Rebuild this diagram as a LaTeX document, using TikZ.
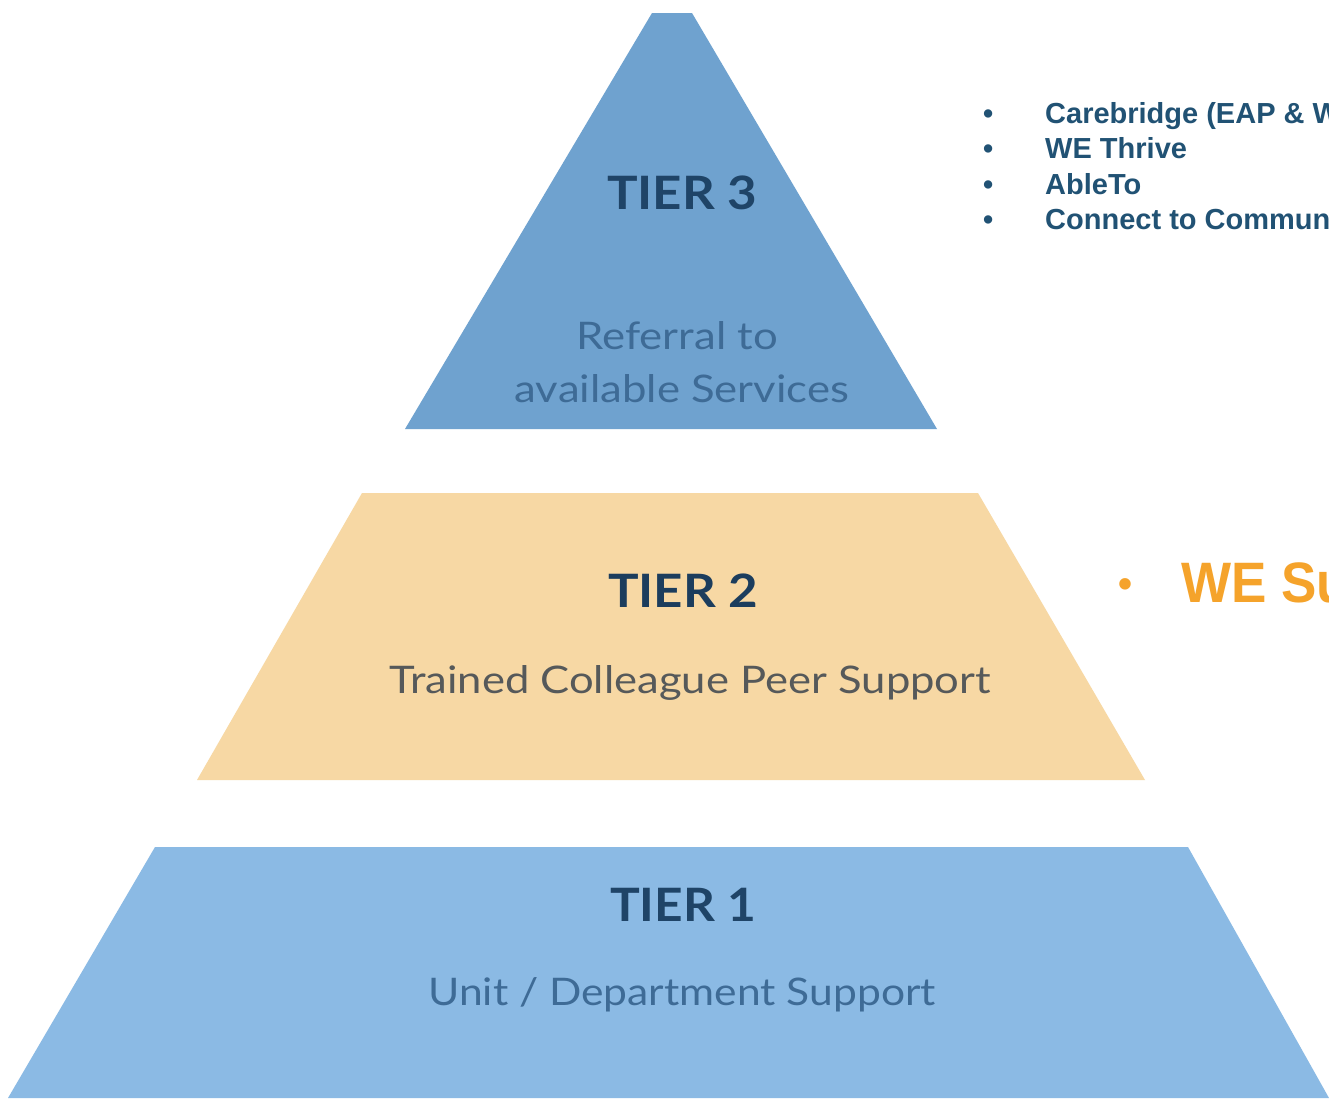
\documentclass[tikz,border=0pt]{standalone}
\usepackage{fontspec}
\setmainfont{Lato}
\newfontfamily\arialfont{Liberation Sans}
\definecolor{tierthree}{HTML}{6FA2CF}
\definecolor{tiertwo}{HTML}{F7D8A4}
\definecolor{tierone}{HTML}{8BBAE4}
\definecolor{navy}{HTML}{1F4467}
\definecolor{subblue}{HTML}{3E6B96}
\definecolor{subgrey}{HTML}{56595A}
\definecolor{listblue}{HTML}{215274}
\definecolor{orangeT}{HTML}{F5A32B}
\newcommand{\widen}[2]{\scalebox{#1}[1]{#2}}
\tikzset{
  tiershape/.style={draw=none},
  tiertitle/.style={font=\fontsize{46}{50}\selectfont\bfseries, text=navy, inner sep=0pt},
  tiersub/.style={font=\fontsize{38}{53}\selectfont, inner sep=0pt, align=center},
  listitem/.style={font=\arialfont\fontsize{29}{32}\selectfont\bfseries, text=listblue, anchor=base west, inner sep=0pt},
  bigitem/.style={font=\arialfont\fontsize{57}{60}\selectfont\bfseries, text=orangeT, anchor=base west, inner sep=0pt}
}
\begin{document}
\begin{tikzpicture}[x=1pt,y=-1pt]
\useasboundingbox (0,0) rectangle (1329,1098);
\clip (0,0) rectangle (1329,1098);
\fill[white] (0,0) rectangle (1329,1098);
% shapes
\fill[tierthree, tiershape] (652,13) -- (692,13) -- (937,429) -- (405,429) -- cycle;
\fill[tiertwo, tiershape] (362,493) -- (978,493) -- (1145,780) -- (197,780) -- cycle;
\fill[tierone, tiershape] (155,847) -- (1188,847) -- (1329,1098) -- (8,1098) -- cycle;
% tier texts
\node[tiertitle] (t3) at (682,193) {\widen{1.11}{TIER 3}};
\node[tiersub, text=subblue] (s3a) at (677,336) {\widen{1.15}{Referral to}};
\node[tiersub, text=subblue] (s3b) at (682,389) {\widen{1.15}{available Services}};
\node[tiertitle, text=navy!90!black] (t2) at (683,591) {\widen{1.11}{TIER 2}};
\node[tiersub, text=subgrey] (s2) at (690,683) {\widen{1.147}{Trained Colleague Peer Support}};
\node[tiertitle] (t1) at (683,905) {\widen{1.08}{TIER 1}};
\node[tiersub, text=subblue] (s1) at (682,995) {\widen{1.12}{Unit / Department Support}};
% right list
\node[listitem] (b1) at (983,123) {•};
\node[listitem] (l1) at (1045,123) {Carebridge (EAP \& W};
\node[listitem] (b2) at (983,158) {•};
\node[listitem] (l2) at (1045,158) {WE Thrive};
\node[listitem] (b3) at (983,194) {•};
\node[listitem] (l3) at (1045,194) {AbleTo};
\node[listitem] (b4) at (983,229) {•};
\node[listitem] (l4) at (1045,229) {Connect to Commun};
\node[bigitem, font=\arialfont\fontsize{40}{44}\selectfont\bfseries] (b5) at (1118,597) {•};
\node[bigitem] (l5) at (1181,602) {\widen{0.93}{WE Su}};
\end{tikzpicture}
\end{document}
